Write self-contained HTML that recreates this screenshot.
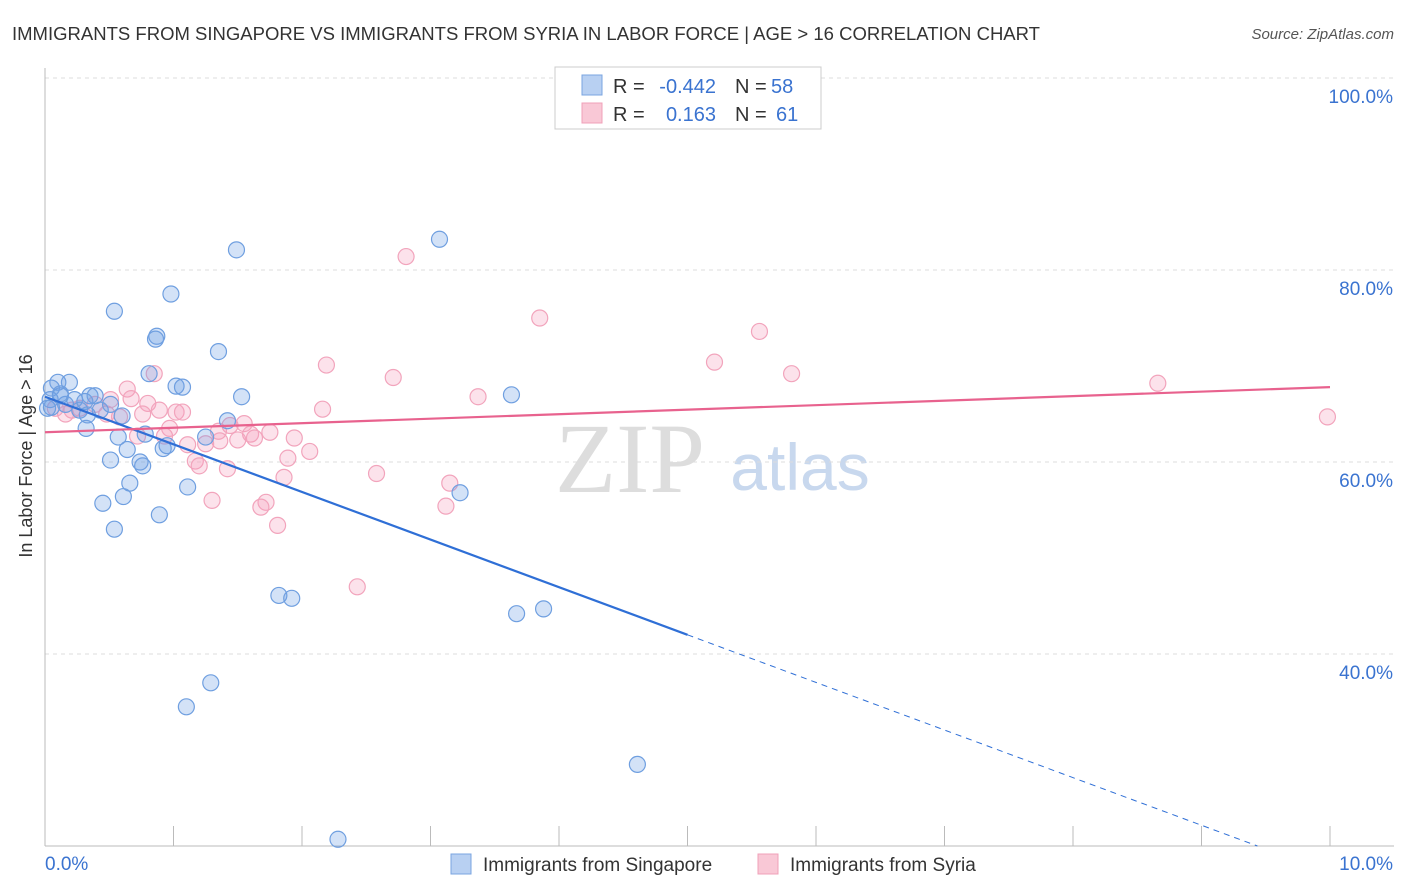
<!DOCTYPE html>
<html><head><meta charset="utf-8"><style>
body{margin:0;background:#fff;font-family:"Liberation Sans",sans-serif;}
svg{display:block}
</style></head><body>
<svg id="c" width="1406" height="892">
<text x="12" y="40" font-size="18" fill="#333" textLength="1028" lengthAdjust="spacingAndGlyphs">IMMIGRANTS FROM SINGAPORE VS IMMIGRANTS FROM SYRIA IN LABOR FORCE | AGE &gt; 16 CORRELATION CHART</text>
<text x="1394" y="39" font-size="15" fill="#555" font-style="italic" text-anchor="end">Source: ZipAtlas.com</text>
<text x="32" y="456" font-size="18" fill="#333" transform="rotate(-90 32 456)" text-anchor="middle">In Labor Force | Age &gt; 16</text>
<text x="630" y="492" font-size="100" fill="#ddd" font-family="Liberation Serif" text-anchor="middle">ZIP</text>
<text x="800" y="490" font-size="66" fill="#c8d8ee" text-anchor="middle">atlas</text>
<g id="grid"></g><g id="pts"></g><g id="lines"></g>
<g font-size="20">
<rect x="555" y="67" width="266" height="62" fill="#fff" stroke="#ccc"/>
<rect x="582" y="75" width="20" height="20" fill="#b8d0f2" stroke="#7aa4e0"/>
<rect x="582" y="103" width="20" height="20" fill="#f9c8d6" stroke="#f0a0b8"/>
<text x="613" y="93" fill="#333">R =</text>
<text x="716" y="93" fill="#3a73d0" text-anchor="end">-0.442</text>
<text x="735" y="93" fill="#333">N =</text>
<text x="771" y="93" fill="#3a73d0">58</text>
<text x="613" y="121" fill="#333">R =</text>
<text x="716" y="121" fill="#3a73d0" text-anchor="end">0.163</text>
<text x="735" y="121" fill="#333">N =</text>
<text x="776" y="121" fill="#3a73d0">61</text>
</g>
<g>
<rect x="451" y="854" width="20" height="20" fill="#b8d0f2" stroke="#7aa4e0"/>
<text x="483" y="871" font-size="19" fill="#333">Immigrants from Singapore</text>
<rect x="758" y="854" width="20" height="20" fill="#f9c8d6" stroke="#f0a0b8"/>
<text x="790" y="871" font-size="19" fill="#333">Immigrants from Syria</text>
</g>
</svg>
<script>
const blueX=[1.49,3.07,0.98,0.54,0.87,0.86,1.35,0.81,1.02,1.07,1.53,3.63,0.10,0.19,0.05,0.12,0.04,0.16,0.23,0.35,0.39,0.31,0.43,0.05,0.27,0.33,0.60,0.32,1.42,0.57,0.78,1.25,0.64,0.92,0.95,0.51,0.74,0.76,0.66,1.11,0.61,0.45,3.23,0.89,0.54,1.82,1.92,3.67,3.88,1.29,1.10,4.61,2.28,0.02,0.51,0.12];
const blueY=[82.1,83.2,77.5,75.7,73.1,72.8,71.5,69.2,67.9,67.8,66.8,67.0,68.3,68.3,67.7,67.1,66.5,66.0,66.5,66.9,66.9,66.3,65.4,65.7,65.4,64.9,64.8,63.5,64.3,62.6,62.9,62.6,61.3,61.4,61.7,60.2,60.0,59.6,57.8,57.4,56.4,55.7,56.8,54.5,53.0,46.1,45.8,44.2,44.7,37.0,34.5,28.5,20.7,65.6,66.0,66.9];
const pinkX=[2.81,3.85,5.56,5.21,2.19,5.81,8.66,9.98,2.71,0.85,0.64,3.37,0.67,0.80,2.16,0.89,1.02,1.07,0.76,0.58,0.48,0.16,0.21,0.39,0.51,1.44,1.55,1.35,1.75,1.60,1.50,1.63,1.36,0.97,0.93,0.72,1.94,1.11,1.25,2.06,1.89,1.17,1.20,1.42,1.86,2.58,3.15,1.30,1.72,1.68,3.12,1.81,2.43,0.08,0.27];
const pinkY=[81.4,75.0,73.6,70.4,70.1,69.2,68.2,64.7,68.8,69.2,67.6,66.8,66.6,66.1,65.5,65.4,65.2,65.2,65.0,64.7,65.0,65.0,65.4,66.0,66.5,63.8,64.0,63.2,63.1,62.9,62.3,62.5,62.2,63.5,62.7,62.7,62.5,61.8,61.9,61.1,60.4,60.1,59.6,59.3,58.4,58.8,57.8,56.0,55.8,55.3,55.4,53.4,47.0,65.6,65.6];
const yTicks=[100,80,60,40];
const yTickLabels=["100.0%","80.0%","60.0%","40.0%"];
const blueFit=[66.8,-4.96];
const pinkFit=[63.1,0.47];
const X=v=>45+v*128.5, Y=v=>78+(100-v)*9.6;
const NS="http://www.w3.org/2000/svg";
function mk(t,a,p){const e=document.createElementNS(NS,t);for(const k in a)e.setAttribute(k,a[k]);p.appendChild(e);return e;}
const g=document.getElementById('grid');
yTicks.forEach((t,i)=>{
 const l=mk('line',{x1:45,x2:1394,y1:Y(t),y2:Y(t),stroke:'#ddd','stroke-dasharray':'4,4'},g);
 
 
 const tx=mk('text',{x:1393,y:Y(t)+25,'font-size':19,fill:'#3a73d0','text-anchor':'end'},g);
 tx.textContent=yTickLabels[i];
 
 
});
mk('line',{x1:45,x2:45,y1:68,y2:846,stroke:'#bbb'},g);
mk('line',{x1:45,x2:1394,y1:846,y2:846,stroke:'#bbb'},g);
for(let i=1;i<=10;i++){mk('line',{x1:45+i*128.5,x2:45+i*128.5,y1:826,y2:846,stroke:'#bbb'},g);}
let t0=mk('text',{x:45,y:870,'font-size':19,fill:'#3a73d0'},g);t0.textContent='0.0%';


let t1=mk('text',{x:1393,y:870,'font-size':19,fill:'#3a73d0','text-anchor':'end'},g);t1.textContent='10.0%';


const p=document.getElementById('pts');
pinkX.forEach((x,i)=>{const c=mk('circle',{cx:X(x),cy:Y(pinkY[i]),r:8,fill:'rgba(244,160,188,0.3)',stroke:'#f2a4bc','stroke-width':1.2},p);
 
 });
blueX.forEach((x,i)=>{const c=mk('circle',{cx:X(x),cy:Y(blueY[i]),r:8,fill:'rgba(110,160,230,0.3)',stroke:'#6f9fe0','stroke-width':1.2},p);
 
 });
const L=document.getElementById('lines');
const bx2=5.0, bxEnd=(20-blueFit[0])/blueFit[1];
let b1=mk('line',{x1:X(0),y1:Y(blueFit[0]),x2:X(bx2),y2:Y(blueFit[0]+blueFit[1]*bx2),stroke:'#2f6fd6','stroke-width':2.2},L);


let b2=mk('line',{x1:X(bx2),y1:Y(blueFit[0]+blueFit[1]*bx2),x2:X(bxEnd),y2:Y(20),stroke:'#2f6fd6','stroke-width':1,'stroke-dasharray':'6,5'},L);


let pl=mk('line',{x1:X(0),y1:Y(pinkFit[0]),x2:X(10),y2:Y(pinkFit[0]+pinkFit[1]*10),stroke:'#e8628e','stroke-width':2.2},L);


</script>
</body></html>
